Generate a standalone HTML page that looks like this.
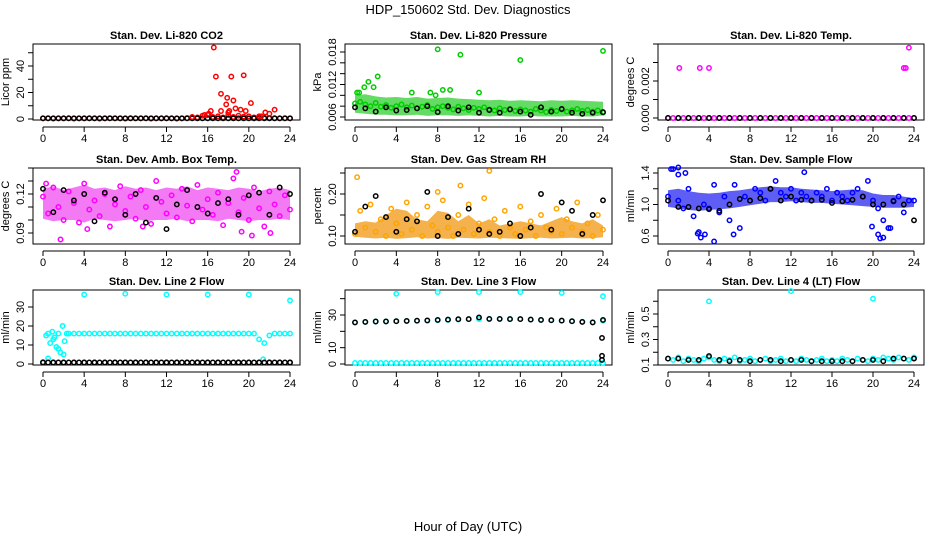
<!DOCTYPE html>
<html><head><meta charset="utf-8"><style>
body{margin:0;background:#fff}
svg{display:block}
text{font-family:"Liberation Sans",Arial,sans-serif}
.pt{font-size:11px;font-weight:bold}
.tk{font-size:11px}
</style></head><body>
<svg id="c" width="936" height="540" viewBox="0 0 936 540">
<rect width="936" height="540" fill="#fff"/>
<text x="468" y="14" text-anchor="middle" font-size="13">HDP_150602  Std. Dev. Diagnostics</text>
<text x="468" y="531" text-anchor="middle" font-size="13">Hour of Day (UTC)</text>
</svg>
<script>
const hours49=[0,0.5,1,1.5,2,2.5,3,3.5,4,4.5,5,5.5,6,6.5,7,7.5,8,8.5,9,9.5,10,10.5,11,11.5,12,12.5,13,13.5,14,14.5,15,15.5,16,16.5,17,17.5,18,18.5,19,19.5,20,20.5,21,21.5,22,22.5,23,23.5,24];
const hours25=[0,1,2,3,4,5,6,7,8,9,10,11,12,13,14,15,16,17,18,19,20,21,22,23,24];
const xTickLabels=["0","4","8","12","16","20","24"];
const xTickValues=[0,4,8,12,16,20,24];

// P1 CO2
const co2Red=[0.5,0.6,0.4,0.5,0.5,0.6,0.4,0.5,0.5,0.6,0.5,0.4,0.5,0.6,0.5,0.5,0.4,0.6,0.5,0.5,0.6,0.4,0.5,0.5,0.6,0.5,0.4,0.5,0.7,0.8,1.2,2.5,3,1.5,2,1.2,3,1.5,2.5,1.8,2,1.2,1.5,1,0.8,0.6,0.5,0.6,0.5];
const co2Black=[0.5,0.5,0.5,0.5,0.5,0.5,0.5,0.5,0.5,0.5,0.5,0.5,0.5,0.5,0.5,0.5,0.5,0.5,0.5,0.5,0.5,0.5,0.5,0.5,0.5,0.5,0.5,0.5,0.5,0.5,0.5,0.5,0.5,0.5,0.5,0.5,0.5,0.5,0.5,0.5,0.5,0.5,0.5,0.5,0.5,0.5,0.5,0.5,0.5];
const co2OutT=[14.5,15.7,16.1,16.3,16.6,16.8,17.3,17.3,17.8,17.9,18.0,18.1,18.3,18.5,18.7,19.2,19.5,19.7,20.2,21.0,21.6,22.0,22.5,21.2];
const co2OutV=[1.5,3,4,6,54,32,19,6,11,16,5,6,32,14,8,7,33,6,12,2,5,4,7,2];

// P2 pressure
const pressGreen=[0.0085,0.0088,0.0083,0.0080,0.0086,0.0079,0.0082,0.0077,0.0080,0.0083,0.0078,0.0081,0.0076,0.0079,0.0082,0.0075,0.0078,0.0080,0.0077,0.0074,0.0079,0.0076,0.0073,0.0077,0.0075,0.0078,0.0074,0.0072,0.0076,0.0073,0.0075,0.0071,0.0074,0.0072,0.0070,0.0075,0.0072,0.0069,0.0073,0.0071,0.0074,0.0070,0.0072,0.0075,0.0071,0.0073,0.0070,0.0072,0.0068];
const pressLo=[0.0068,0.0066,0.0064,0.0064,0.0063,0.0063,0.0064,0.0062,0.0063,0.0063,0.0062,0.0063,0.0062,0.0061,0.0062,0.0061,0.0061,0.0062,0.0061,0.0061,0.0061,0.0062,0.0061,0.0061,0.0063];
const pressHi=[0.0100,0.0102,0.0098,0.0096,0.0097,0.0095,0.0097,0.0094,0.0095,0.0096,0.0094,0.0093,0.0092,0.0091,0.0092,0.0090,0.0091,0.0090,0.0089,0.0091,0.0090,0.0091,0.0090,0.0089,0.0088];
const pressBlack=[0.0078,0.0076,0.0070,0.0078,0.0072,0.0073,0.0076,0.0080,0.0069,0.0080,0.0072,0.0078,0.0068,0.0073,0.0068,0.0074,0.0070,0.0064,0.0078,0.0070,0.0075,0.0068,0.0066,0.0068,0.0069];
const pressOutT=[0.2,0.4,0.9,1.3,1.8,2.2,7.3,8.0,8.5,10.2,12.0,16.0,24.0,5.5,9.2,7.8];
const pressOutV=[0.0105,0.0105,0.0115,0.0125,0.0115,0.0135,0.0105,0.0185,0.0110,0.0175,0.0105,0.0165,0.0182,0.0105,0.0110,0.0100];

// P3 temp
const tempMag=[0,0,0,0,0,0,0,0,0,0,0,0,0,0,0,0,0,0,0,0,0,0,0,0,0,0,0,0,0,0,0,0,0,0,0,0,0,0,0,0,0,0,0,0,0,0,0,0,0];
const tempBlack=[0,0,0,0,0,0,0,0,0,0,0,0,0,0,0,0,0,0,0,0,0,0,0,0,0];
const tempOutT=[1.1,3.1,4.0,23.0,23.2,23.5];
const tempOutV=[0.0027,0.0027,0.0027,0.0027,0.0027,0.0038];

// P4 amb box temp
const ambMag=[0.118,0.105,0.125,0.110,0.100,0.122,0.113,0.098,0.128,0.108,0.115,0.103,0.120,0.095,0.112,0.126,0.107,0.118,0.101,0.123,0.110,0.097,0.130,0.114,0.105,0.119,0.102,0.124,0.111,0.099,0.127,0.108,0.116,0.104,0.121,0.096,0.113,0.132,0.106,0.117,0.100,0.125,0.109,0.095,0.122,0.112,0.103,0.119,0.108];
const ambLo=[0.101,0.099,0.100,0.100,0.098,0.101,0.100,0.099,0.100,0.101,0.099,0.100,0.100,0.101,0.099,0.100,0.100,0.099,0.101,0.100,0.099,0.100,0.100,0.101,0.100];
const ambHi=[0.124,0.126,0.123,0.125,0.127,0.124,0.125,0.123,0.126,0.124,0.125,0.123,0.125,0.124,0.126,0.123,0.125,0.124,0.123,0.125,0.124,0.122,0.124,0.125,0.123];
const ambBlack=[0.124,0.106,0.123,0.115,0.120,0.099,0.121,0.116,0.104,0.120,0.098,0.117,0.093,0.112,0.123,0.110,0.105,0.113,0.116,0.104,0.119,0.121,0.104,0.125,0.120];
const ambOutT=[1.7,0.3,4.3,18.8,20.3,22.1,9.7,19.3];
const ambOutV=[0.085,0.128,0.093,0.137,0.088,0.090,0.095,0.091];

// P5 RH
const rhOrange=[0.105,0.160,0.120,0.175,0.110,0.140,0.100,0.165,0.130,0.105,0.180,0.115,0.150,0.100,0.170,0.125,0.110,0.185,0.120,0.100,0.150,0.115,0.175,0.105,0.130,0.190,0.110,0.140,0.100,0.160,0.120,0.105,0.170,0.115,0.135,0.100,0.150,0.120,0.110,0.165,0.105,0.140,0.120,0.180,0.110,0.130,0.100,0.150,0.115];
const rhLo=[0.098,0.096,0.094,0.096,0.093,0.095,0.097,0.094,0.095,0.093,0.096,0.095,0.094,0.096,0.095,0.094,0.093,0.095,0.096,0.094,0.095,0.096,0.094,0.095,0.097];
const rhHi=[0.130,0.135,0.132,0.150,0.165,0.160,0.140,0.135,0.160,0.155,0.135,0.150,0.130,0.140,0.125,0.130,0.135,0.130,0.125,0.135,0.145,0.135,0.130,0.140,0.125];
const rhBlack=[0.110,0.170,0.195,0.145,0.110,0.140,0.135,0.205,0.100,0.145,0.105,0.165,0.115,0.105,0.110,0.130,0.100,0.120,0.200,0.115,0.180,0.160,0.105,0.150,0.185];
const rhOutT=[0.2,13.0,10.2,8.0];
const rhOutV=[0.240,0.255,0.220,0.205];

// P6 sample flow
const flowBlue=[1.10,1.45,1.05,0.95,1.20,0.85,0.65,1.00,0.95,1.25,0.90,1.10,0.80,1.25,0.70,1.10,1.05,1.20,1.15,1.05,1.20,1.30,1.15,1.10,1.20,1.05,1.15,1.10,1.05,1.15,1.10,1.20,1.05,1.15,1.10,1.05,1.15,1.20,1.10,1.30,1.05,0.95,0.80,0.70,1.05,1.10,0.90,1.05,1.05];
const flowLo=[0.97,0.95,0.93,0.92,0.93,0.94,0.95,0.97,0.99,1.01,1.03,1.03,1.04,1.03,1.02,1.02,1.01,1.00,0.99,0.98,0.97,0.96,0.96,0.96,0.97];
const flowHi=[1.18,1.20,1.17,1.15,1.14,1.15,1.17,1.18,1.20,1.22,1.23,1.22,1.22,1.20,1.19,1.18,1.17,1.18,1.19,1.18,1.14,1.12,1.12,1.10,1.08];
const flowBlack=[1.05,0.97,0.97,0.95,0.94,0.92,1.00,1.07,1.05,1.08,1.20,1.05,1.10,1.06,1.05,1.06,1.02,1.04,1.06,1.10,1.00,1.00,1.04,1.00,0.80];
const flowOutT=[0.3,1.0,1.7,2.9,3.2,3.6,4.5,6.4,13.3,20.5,20.7,21.0,21.7,19.9,1.0];
const flowOutV=[1.45,1.47,1.40,0.63,0.58,0.62,0.53,0.62,1.41,0.62,0.57,0.58,0.70,0.72,1.38];

// P7 line 2 flow
const l2Cyan=[1,16,13,8,5,16,16,16,16,16,16,16,16,16,16,16,16,16,16,16,16,16,16,16,16,16,16,16,16,16,16,16,16,16,16,16,16,16,16,16,16,16,13,11,15,16,16,16,16];
const l2Early=[0.3,0.5,0.7,0.9,1.1,1.3,1.5,1.7,1.9,2.1,2.3];
const l2EarlyV=[15,3,11,17,14,9,16,6,20,12,16];
const l2Black=[0.8,0.8,0.8,0.8,0.8,0.8,0.8,0.8,0.8,0.8,0.8,0.8,0.8,0.8,0.8,0.8,0.8,0.8,0.8,0.8,0.8,0.8,0.8,0.8,0.8];
const l2OutT=[4,8,12,16,20,24,21.4];
const l2OutV=[36.5,37,36.5,36.5,36.5,33.5,2.5];

// P8 line 3 flow
const l3Cyan=[0.6,0.6,0.6,0.6,0.6,0.6,0.6,0.6,0.6,0.6,0.6,0.6,0.6,0.6,0.6,0.6,0.6,0.6,0.6,0.6,0.6,0.6,0.6,0.6,0.6,0.6,0.6,0.6,0.6,0.6,0.6,0.6,0.6,0.6,0.6,0.6,0.6,0.6,0.6,0.6,0.6,0.6,0.6,0.6,0.6,0.6,0.6,0.6,0.6];
const l3Upper=[25.5,25.8,26.0,26.0,26.2,26.3,26.5,26.6,26.8,27.0,27.2,27.4,27.5,27.6,27.6,27.6,27.5,27.3,27.0,26.8,26.5,26.2,25.9,25.6,26.5];
const l3Black=[25.5,25.8,26.0,26.1,26.2,26.4,26.5,26.7,27.0,27.2,27.4,27.5,28.5,27.6,27.6,27.5,27.5,27.2,27.0,26.8,26.6,26.2,25.8,25.5,27.0];
const l3OutT=[4,8,12,16,20,24,23.9,23.9,23.9];
const l3OutV=[43,44,44,44,43.5,41.5,16,5,2.5];

// P9 line 4 flow
const l4Cyan=[0.15,0.14,0.16,0.13,0.15,0.14,0.13,0.15,0.16,0.14,0.13,0.15,0.14,0.16,0.13,0.14,0.15,0.13,0.14,0.15,0.13,0.14,0.15,0.13,0.14,0.13,0.15,0.14,0.13,0.14,0.15,0.13,0.14,0.13,0.15,0.14,0.13,0.15,0.14,0.13,0.15,0.14,0.16,0.15,0.14,0.16,0.15,0.14,0.16];
const l4Black=[0.15,0.15,0.14,0.14,0.17,0.14,0.13,0.14,0.13,0.14,0.14,0.13,0.14,0.14,0.13,0.13,0.13,0.13,0.13,0.14,0.14,0.13,0.15,0.15,0.15];
const l4OutT=[4,12,20];
const l4OutV=[0.60,0.68,0.62];

const NS="http://www.w3.org/2000/svg";
const svg=document.getElementById('c');
function mk(tag,attrs,parent){const e=document.createElementNS(NS,tag);for(const k in attrs)e.setAttribute(k,attrs[k]);(parent||svg).appendChild(e);return e;}

const cols=[{l:33,r:300,x0:43,x24:290},{l:345,r:612,x0:355,x24:603},{l:658,r:924,x0:668,x24:914}];
const rows=[{t:44,b:120},{t:168,b:244},{t:290,b:365}];

function panel(ci,ri,name,title,ylab,ya,yticks,ylabels){
  const c=cols[ci],r=rows[ri];
  const g=mk('g',{});
  
  
  const xs=v=>c.x0+(v/24)*(c.x24-c.x0);
  const ys=v=>ya.p0+(v-ya.v0)*(ya.p1-ya.p0)/(ya.v1-ya.v0);
  const t=mk('text',{x:(c.l+c.r)/2,y:r.t-5,'text-anchor':'middle','class':'pt'},g);t.textContent=title;
  
  
  const box=mk('rect',{x:c.l,y:r.t,width:c.r-c.l,height:r.b-r.t,fill:'none',stroke:'#000','stroke-width':1},g);
  
  
  const plot=mk('g',{},g);
  const xa=mk('g',{},g);
  
  
  mk('line',{x1:xs(0),x2:xs(24),y1:r.b+7,y2:r.b+7,stroke:'#000'},xa);
  xTickValues.forEach((v,i)=>{
    mk('line',{x1:xs(v),x2:xs(v),y1:r.b+7,y2:r.b+12,stroke:'#000'},xa);
    const tt=mk('text',{x:xs(v),y:r.b+22,'text-anchor':'middle','class':'tk'},xa);tt.textContent=xTickLabels[i];
  });
  const yg=mk('g',{},g);
  
  
  const ax=c.l-0;
  mk('line',{x1:ax,x2:ax,y1:ys(yticks[0]),y2:ys(yticks[yticks.length-1]),stroke:'#000'},yg);
  yticks.forEach(v=>{mk('line',{x1:ax-5,x2:ax,y1:ys(v),y2:ys(v),stroke:'#000'},yg);});
  ylabels.forEach(o=>{const tt=mk('text',{x:ax-9,y:ys(o.v),'text-anchor':'middle','class':'tk',transform:`rotate(-90 ${ax-9} ${ys(o.v)})`},yg);tt.textContent=o.s;});
  const yt=mk('text',{x:c.l-24,y:(r.t+r.b)/2,'text-anchor':'middle','font-size':11,transform:`rotate(-90 ${c.l-24} ${(r.t+r.b)/2})`},g);yt.textContent=ylab;
  
  
  return {plot,xs,ys};
}
function band(p,ts,lo,hi,fill,name){
  let d='';ts.forEach((t,i)=>{d+=(i?'L':'M')+p.xs(t).toFixed(1)+' '+p.ys(hi[i]).toFixed(1);});
  for(let i=ts.length-1;i>=0;i--)d+='L'+p.xs(ts[i]).toFixed(1)+' '+p.ys(lo[i]).toFixed(1);
  const e=mk('path',{d:d+'Z',fill:fill,'fill-opacity':0.7,stroke:'none'},p.plot);
  
  
}
function pts(p,ts,vs,col,name){
  const g=mk('g',{},p.plot);
  
  
  ts.forEach((t,i)=>{mk('circle',{cx:p.xs(t).toFixed(1),cy:p.ys(vs[i]).toFixed(1),r:2.2,fill:'none',stroke:col,'stroke-width':1.5},g);});
}
function rng(a,b,s){const o=[];for(let v=a;v<=b+1e-9;v+=s)o.push(+v.toFixed(6));return o;}

let p;
p=panel(0,0,'panel-co2','Stan. Dev. Li-820 CO2','Licor ppm',{v0:0,p0:119,v1:40,p1:66},rng(0,50,10),[{v:0,s:'0'},{v:20,s:'20'},{v:40,s:'40'}]);
pts(p,hours49,co2Red,'#f00','co2-red-series');pts(p,hours49,co2Black,'#000','co2-black-series');pts(p,co2OutT,co2OutV,'#f00','co2-outliers');

p=panel(1,0,'panel-pressure','Stan. Dev. Li-820 Pressure','kPa',{v0:0.006,p0:117,v1:0.018,p1:52},rng(0.006,0.018,0.002),[{v:0.006,s:'0.006'},{v:0.012,s:'0.012'},{v:0.018,s:'0.018'}]);
band(p,hours25,pressLo,pressHi,'#22cc22','pressure-cloud');pts(p,hours49,pressGreen,'#0c0','pressure-green-series');pts(p,pressOutT,pressOutV,'#0c0','pressure-outliers');pts(p,hours25,pressBlack,'#000','pressure-black-series');

p=panel(2,0,'panel-temp','Stan. Dev. Li-820 Temp.','degrees C',{v0:0,p0:118,v1:0.002,p1:81},rng(0,0.004,0.001),[{v:0,s:'0.000'},{v:0.002,s:'0.002'}]);
pts(p,hours49,tempMag,'#f0f','temp-magenta-series');pts(p,hours25,tempBlack,'#000','temp-black-series');pts(p,tempOutT,tempOutV,'#f0f','temp-outliers');

p=panel(0,1,'panel-amb-temp','Stan. Dev. Amb. Box Temp.','degrees C',{v0:0.09,p0:233,v1:0.12,p1:194},rng(0.09,0.14,0.01),[{v:0.09,s:'0.09'},{v:0.12,s:'0.12'}]);
band(p,hours25,ambLo,ambHi,'#f040f0','amb-cloud');pts(p,hours49,ambMag,'#f0f','amb-magenta-series');pts(p,ambOutT,ambOutV,'#f0f','amb-outliers');pts(p,hours25,ambBlack,'#000','amb-black-series');

p=panel(1,1,'panel-rh','Stan. Dev. Gas Stream RH','percent',{v0:0.10,p0:236,v1:0.20,p1:194},rng(0.10,0.25,0.05),[{v:0.10,s:'0.10'},{v:0.20,s:'0.20'}]);
band(p,hours25,rhLo,rhHi,'#f09000','rh-cloud');pts(p,hours49,rhOrange,'#ffa500','rh-orange-series');pts(p,rhOutT,rhOutV,'#ffa500','rh-outliers');pts(p,hours25,rhBlack,'#000','rh-black-series');

p=panel(2,1,'panel-sample-flow','Stan. Dev. Sample Flow','ml/min',{v0:0.6,p0:236,v1:1.4,p1:173},rng(0.6,1.4,0.2),[{v:0.6,s:'0.6'},{v:1.0,s:'1.0'},{v:1.4,s:'1.4'}]);
band(p,hours25,flowLo,flowHi,'#1a1af0','flow-cloud');pts(p,hours49,flowBlue,'#00f','flow-blue-series');pts(p,flowOutT,flowOutV,'#00f','flow-outliers');pts(p,hours25,flowBlack,'#000','flow-black-series');

p=panel(0,2,'panel-line2','Stan. Dev. Line 2 Flow','ml/min',{v0:0,p0:364,v1:30,p1:307},rng(0,30,10),[{v:0,s:'0'},{v:10,s:'10'},{v:20,s:'20'},{v:30,s:'30'}]);
pts(p,hours49,l2Cyan,'#0ff','line2-cyan-series');pts(p,l2Early,l2EarlyV,'#0ff','line2-early-points');pts(p,l2OutT,l2OutV,'#0ff','line2-outliers');pts(p,hours25,l2Black,'#000','line2-black-series');pts(p,hours49,l2Black.concat(l2Black).slice(0,49),'#000','line2-black-dense');

p=panel(1,2,'panel-line3','Stan. Dev. Line 3 Flow','ml/min',{v0:0,p0:364,v1:30,p1:315},rng(0,40,10),[{v:0,s:'0'},{v:10,s:'10'},{v:30,s:'30'}]);
pts(p,hours49,l3Cyan,'#0ff','line3-cyan-base');pts(p,hours25,l3Upper,'#0ff','line3-cyan-upper');pts(p,hours25,l3Black,'#000','line3-black-series');pts(p,l3OutT.slice(0,6),l3OutV.slice(0,6),'#0ff','line3-outliers');pts(p,l3OutT.slice(6),l3OutV.slice(6),'#000','line3-black-outliers');

p=panel(2,2,'panel-line4','Stan. Dev. Line 4 (LT) Flow','ml/min',{v0:0.1,p0:365,v1:0.5,p1:314},rng(0.1,0.6,0.1),[{v:0.1,s:'0.1'},{v:0.3,s:'0.3'},{v:0.5,s:'0.5'}]);
pts(p,hours49,l4Cyan,'#0ff','line4-cyan-series');pts(p,l4OutT,l4OutV,'#0ff','line4-outliers');pts(p,hours25,l4Black,'#000','line4-black-series');
</script>
</body></html>
